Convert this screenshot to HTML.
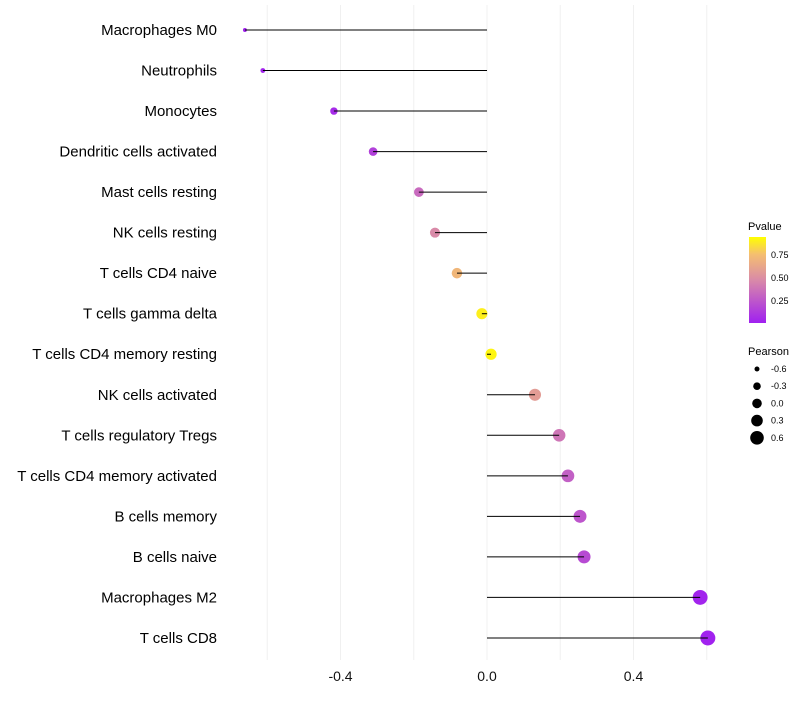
<!DOCTYPE html>
<html><head><meta charset="utf-8"><style>
body{margin:0;background:#fff;font-family:"Liberation Sans",sans-serif}
</style></head><body>
<svg id="chart" width="800" height="700" xmlns="http://www.w3.org/2000/svg">
<defs><linearGradient id="pg" x1="0" y1="1" x2="0" y2="0">
<stop offset="0" stop-color="#a020f0"/><stop offset="0.5" stop-color="#d98aa8"/><stop offset="0.8" stop-color="#f5bf70"/><stop offset="1" stop-color="#ffff00"/></linearGradient></defs>
<g id="grid"></g><g id="points"></g><g id="marks"></g><g id="labels"></g><g id="legend"></g>
</svg>
<script>
const categories=["Macrophages M0","Neutrophils","Monocytes","Dendritic cells activated","Mast cells resting","NK cells resting","T cells CD4 naive","T cells gamma delta","T cells CD4 memory resting","NK cells activated","T cells regulatory  Tregs ","T cells CD4 memory activated","B cells memory","B cells naive","Macrophages M2","T cells CD8"];
const pearson=[-0.661,-0.612,-0.418,-0.311,-0.186,-0.142,-0.082,-0.014,0.011,0.131,0.197,0.221,0.254,0.265,0.582,0.603];
const pvalue=[0.01,0.02,0.05,0.15,0.35,0.5,0.75,0.95,0.97,0.6,0.4,0.3,0.25,0.2,0.02,0.01];
const xTicks=[-0.4,0.0,0.4];
const xTickLabels=["-0.4","0.0","0.4"];
const NS="http://www.w3.org/2000/svg";
const x=v=>487+v*366.25;
const y=i=>30+i*40.53;
const r=v=>Math.sqrt(Math.max(2,31.2+41.3*v));
function col(p){
 const stops=[[0,[160,32,240]],[0.5,[217,138,168]],[0.8,[245,191,112]],[1,[255,255,0]]];
 for(let k=1;k<stops.length;k++){if(p<=stops[k][0]){const a=stops[k-1],b=stops[k],t=(p-a[0])/(b[0]-a[0]);return `rgb(${a[1].map((c,j)=>Math.round(c+(b[1][j]-c)*t)).join(",")})`;}}
 return "rgb(255,255,0)";}
function mk(tag,attrs,parent){const e=document.createElementNS(NS,tag);for(const k in attrs)e.setAttribute(k,attrs[k]);document.getElementById(parent).appendChild(e);return e;}
const grid=[-0.6,-0.4,-0.2,0,0.2,0.4,0.6];
grid.forEach(g=>{const l=mk("line",{x1:x(g),x2:x(g),y1:5,y2:660,stroke:"#f0f0f0","stroke-width":1},"grid");

});
xTicks.forEach((t,i)=>{const tx=mk("text",{x:x(t),y:681,"text-anchor":"middle","font-size":14,fill:"#111"},"labels");tx.textContent=xTickLabels[i];

});
categories.forEach((c,i)=>{
 const tx=mk("text",{x:217,y:y(i)+5,"text-anchor":"end","font-size":15,fill:"#000"},"labels");tx.textContent=c;
 
 
 const pt=mk("circle",{cx:x(pearson[i]),cy:y(i),r:r(pearson[i]),fill:col(pvalue[i])},"points");
 
 
 const ln=mk("line",{x1:x(0),x2:x(pearson[i]),y1:y(i),y2:y(i),stroke:"#000","stroke-width":1},"marks");
 
 
});
let t=mk("text",{x:748,y:230,"font-size":11},"legend");t.textContent="Pvalue";

const bar=mk("rect",{x:749,y:237,width:17,height:86,fill:"url(#pg)"},"legend");

[["0.75",255],["0.50",278],["0.25",301]].forEach(([s,yy])=>{const e=mk("text",{x:771,y:yy+3,"font-size":9},"legend");e.textContent=s;
});
t=mk("text",{x:748,y:355,"font-size":11},"legend");t.textContent="Pearson";

[["-0.6",2.5],["-0.3",3.8],["0.0",4.8],["0.3",5.8],["0.6",6.8]].forEach(([s,rr],k)=>{
 const cy=369+k*17.2;
 const c=mk("circle",{cx:757,cy:cy,r:rr,fill:"#000"},"legend");
 
 const e=mk("text",{x:771,y:cy+3,"font-size":9},"legend");e.textContent=s;
 });
</script>
</body></html>
